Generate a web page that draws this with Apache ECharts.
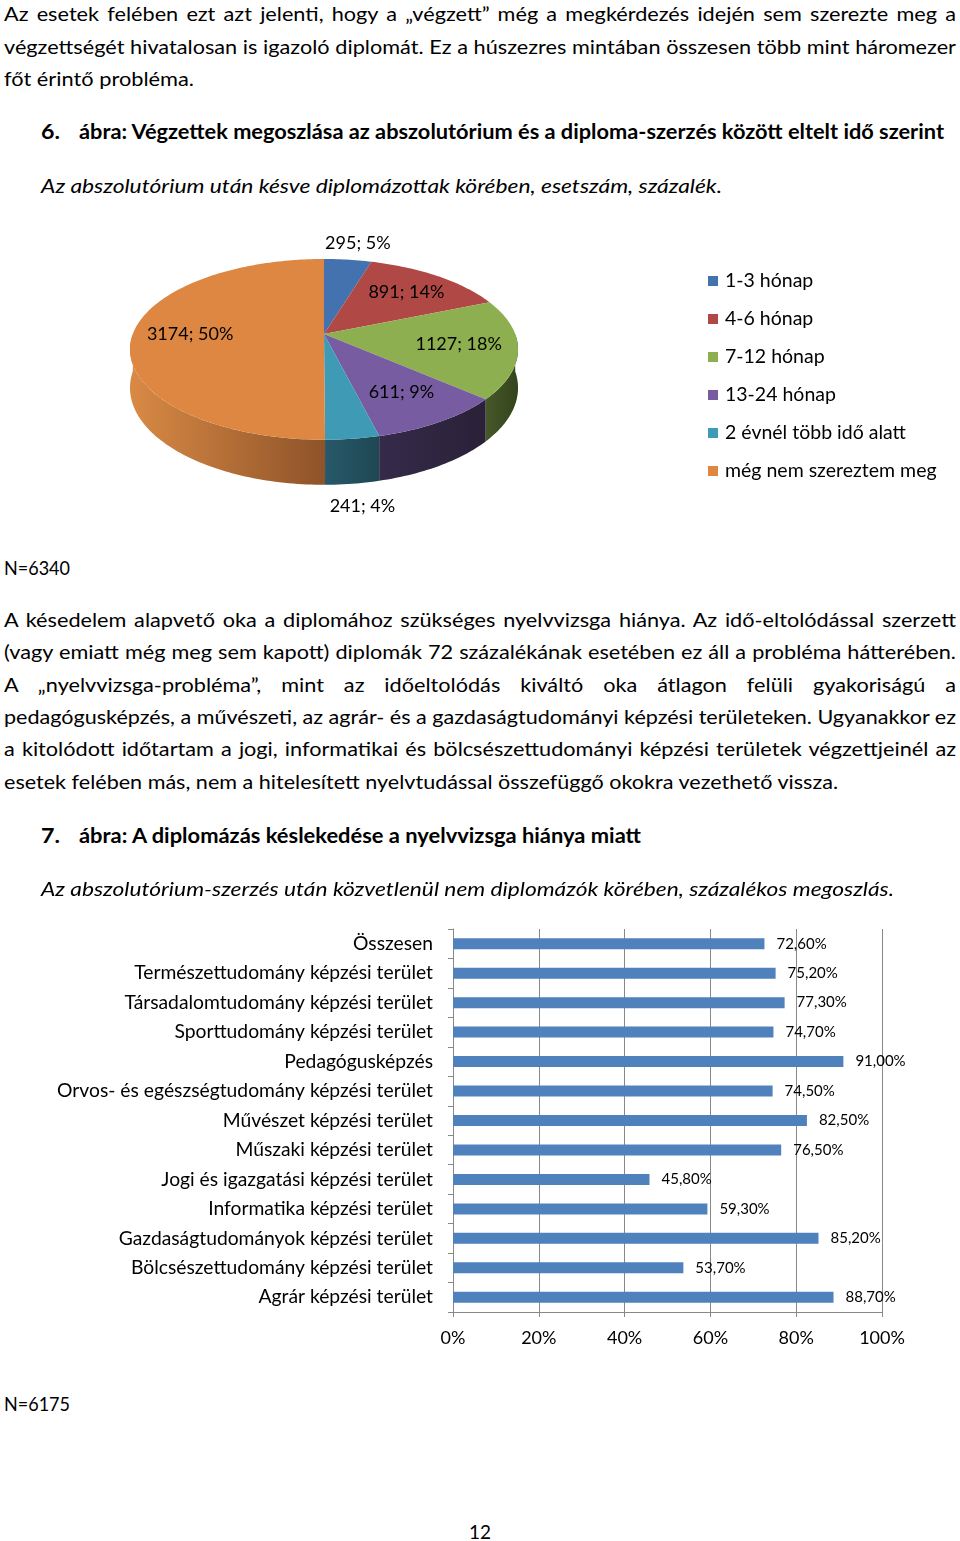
<!DOCTYPE html>
<html><head><meta charset="utf-8">
<script src="https://cdn.jsdelivr.net/npm/echarts@6/dist/echarts.min.js"></script>
<style>
html,body{margin:0;padding:0;background:#fff;}
#page{position:relative;width:960px;height:1541px;overflow:hidden;font-family:Lato,"Open Sans",sans-serif;color:#000;}
.ln{position:absolute;white-space:nowrap;font-size:20px;line-height:26px;height:26px;transform-origin:0 50%;}
.j{white-space:normal;text-align:justify;text-align-last:justify;}
.b{font-weight:bold;}
.i{font-style:italic;}
#pie{position:absolute;left:0;top:220px;width:960px;height:310px;}
#bar{position:absolute;left:0;top:900px;width:960px;height:470px;}
</style></head>
<body>
<div id="page">
  <div id="pie"></div>
  <div id="bar"></div>
</div>
<script>
// ---------- chart data ----------
const pieCategories = ['1-3 hónap', '4-6 hónap', '7-12 hónap', '13-24 hónap', '2 évnél több idő alatt', 'még nem szereztem meg'];
const pieValues = [295, 891, 1127, 611, 241, 3174];
const piePercents = ['5%', '14%', '18%', '9%', '4%', '50%'];
const pieColors = ['#4472AE', '#B04845', '#8DAF50', '#775CA1', '#3F9AB5', '#DD8742'];
const pieSideColors = [['#2E4E7A', '#22395A'], ['#7A302E', '#5A2221'], ['#46582A', '#33431C'], ['#352A4A', '#2A2138'], ['#27596A', '#1F4753'], ['#D98A45', '#8E5329']];

const barCategories = ['Összesen', 'Természettudomány képzési terület', 'Társadalomtudomány képzési terület', 'Sporttudomány képzési terület', 'Pedagógusképzés', 'Orvos- és egészségtudomány képzési terület', 'Művészet képzési terület', 'Műszaki képzési terület', 'Jogi és igazgatási képzési terület', 'Informatika képzési terület', 'Gazdaságtudományok képzési terület', 'Bölcsészettudomány képzési terület', 'Agrár képzési terület'];
const barValues = [72.6, 75.2, 77.3, 74.7, 91.0, 74.5, 82.5, 76.5, 45.8, 59.3, 85.2, 53.7, 88.7];
const xTickValues = [0, 20, 40, 60, 80, 100];

// ---------- page text ----------
const textLines = [
  {t:'Az esetek felében ezt azt jelenti, hogy a „végzett” még a megkérdezés idején sem szerezte meg a', x:4, y:13, w:952, j:true},
  {t:'végzettségét hivatalosan is igazoló diplomát. Ez a húszezres mintában összesen több mint háromezer', x:4, y:46, w:952, j:true},
  {t:'főt érintő probléma.', x:4, y:78, w:190, body:true},
  {t:'6.', x:41, y:131, w:19, c:'b'},
  {t:'ábra: Végzettek megoszlása az abszolutórium és a diploma-szerzés között eltelt idő szerint', x:79, y:131, w:865, c:'b'},
  {t:'Az abszolutórium után késve diplomázottak körében, esetszám, százalék.', x:41, y:185, w:681, c:'i'},
  {t:'N=6340', x:4, y:567, w:66},
  {t:'A késedelem alapvető oka a diplomához szükséges nyelvvizsga hiánya. Az idő-eltolódással szerzett', x:4, y:619, w:952, j:true},
  {t:'(vagy emiatt még meg sem kapott) diplomák 72 százalékának esetében ez áll a probléma hátterében.', x:4, y:651, w:952, j:true},
  {t:'A „nyelvvizsga-probléma”, mint az időeltolódás kiváltó oka átlagon felüli gyakoriságú a', x:4, y:684, w:952, j:true},
  {t:'pedagógusképzés, a művészeti, az agrár- és a gazdaságtudományi képzési területeken. Ugyanakkor ez', x:4, y:716, w:952, j:true},
  {t:'a kitolódott időtartam a jogi, informatikai és bölcsészettudományi képzési területek végzettjeinél az', x:4, y:748, w:952, j:true},
  {t:'esetek felében más, nem a hitelesített nyelvtudással összefüggő okokra vezethető vissza.', x:4, y:781, w:834, body:true},
  {t:'7.', x:41, y:835, w:19, c:'b'},
  {t:'ábra: A diplomázás késlekedése a nyelvvizsga hiánya miatt', x:79, y:835, w:562, c:'b'},
  {t:'Az abszolutórium-szerzés után közvetlenül nem diplomázók körében, százalékos megoszlás.', x:41, y:888, w:853, c:'i'},
  {t:'N=6175', x:4, y:1403, w:66},
  {t:'12', x:469, y:1531, w:22}
];

const page = document.getElementById('page');
const els = textLines.map(L => {
  const d = document.createElement('div');
  d.className = 'ln' + (L.c ? ' ' + L.c : '');
  d.textContent = L.t;
  d.style.left = L.x + 'px';
  d.style.top = (L.y - 13) + 'px';
  page.appendChild(d);
  return d;
});
function layoutText() {
  const nat = els.map(d => d.getBoundingClientRect().width);
  let sum = 0, n = 0;
  textLines.forEach((L, i) => { if (L.body) { sum += L.w / nat[i]; n++; } });
  const S = n ? sum / n : 1;
  textLines.forEach((L, i) => {
    const d = els[i];
    if (L.j) {
      const s = Math.min(S, L.w / nat[i]);
      d.classList.add('j');
      d.style.width = (L.w / s) + 'px';
      d.style.transform = 'scaleX(' + s + ')';
    } else {
      const s = L.w / nat[i];
      d.style.transform = 'scaleX(' + s + ')';
    }
  });
}
layoutText();

// ---------- pie (3D look with perspective) ----------
const FONT = 'Lato, "Open Sans", sans-serif';
const total = pieValues.reduce((a, b) => a + b, 0);
const cum = [0];
pieValues.forEach((v, i) => cum.push(cum[i] + v));
const G = {cx:324, cy:114, R:191.2, b:87.75, p:0.17, d:37.4};
function pt(th, k) {
  const s = Math.sin(th), c = Math.cos(th);
  const den = 1 + G.p * k * c;
  return [G.cx + G.R * k * s / den, G.cy - G.b * k * c / den];
}
function depth(th) { return G.d / (1 + G.p * Math.cos(th)); }
function arc(a0, a1, k, dfn) {
  const pts = [];
  const n = Math.max(2, Math.ceil((a1 - a0) / 0.02));
  for (let j = 0; j <= n; j++) {
    const t = a0 + (a1 - a0) * j / n;
    const q = pt(t, k);
    if (dfn) q[1] += dfn(t);
    pts.push(q);
  }
  return pts;
}
const pieChart = echarts.init(document.getElementById('pie'), null, {renderer:'canvas'});
pieChart.setOption({
  animation:false,
  color: pieColors,
  legend: {
    orient:'vertical', left:703, top:46, itemWidth:10, itemHeight:10, itemGap:18, icon:'rect',
    selectedMode:false,
    textStyle:{fontSize:19.5, fontFamily:FONT, color:'#000', padding:[0,0,0,2]},
    data: pieCategories
  },
  series: pieCategories.map((name, i) => ({
    type:'custom', name, coordinateSystem:'none', data:[pieValues[i]],
    itemStyle:{color: pieColors[i]},
    renderItem: function (params, api) {
      const a0 = cum[i] / total * Math.PI * 2;
      const a1 = cum[i + 1] / total * Math.PI * 2;
      const children = [];
      const t0 = Math.max(a0, Math.PI / 2), t1 = Math.min(a1, Math.PI * 1.5);
      if (t1 > t0) {
        const topPts = arc(t0, t1, 1);
        const botPts = arc(t0, t1, 1, depth).reverse();
        children.push({
          type:'polygon', shape:{points: topPts.concat(botPts)},
          style:{fill: new echarts.graphic.LinearGradient(0, 0, 1, 0, [
            {offset:0, color: pieSideColors[i][0]}, {offset:1, color: pieSideColors[i][1]}])}
        });
      }
      children.push({
        type:'polygon', shape:{points: [[G.cx, G.cy]].concat(arc(a0, a1, 1))},
        style:{fill: pieColors[i]}
      });
      const mid = (a0 + a1) / 2;
      const frac = pieValues[i] / total;
      let lp;
      if (frac < 0.06) {
        lp = pt(mid, 1);
        if (Math.cos(mid) < 0) lp[1] += depth(mid) + 22; else lp[1] -= 16;
        lp[0] += 10;
      } else {
        lp = pt(mid, 0.7);
      }
      children.push({
        type:'text', z2:100,
        style:{text: pieValues[i] + '; ' + piePercents[i], x: lp[0], y: lp[1], fill:'#000',
          font:'18px ' + FONT, align:'center', verticalAlign:'middle', textAlign:'center', textVerticalAlign:'middle'}
      });
      return {type:'group', children};
    }
  }))
});

// ---------- bar chart ----------
const barChart = echarts.init(document.getElementById('bar'), null, {renderer:'canvas'});
barChart.setOption({
  animation:false,
  grid:{left:453, right:78, top:29, height:383},
  xAxis:{
    type:'value', min:xTickValues[0], max:xTickValues[xTickValues.length - 1], interval:xTickValues[1] - xTickValues[0],
    axisLabel:{formatter:'{value}%', fontSize:18, fontFamily:FONT, color:'#000', margin:17},
    axisLine:{show:true, lineStyle:{color:'#888'}},
    axisTick:{show:true, length:5, lineStyle:{color:'#888'}},
    splitLine:{show:true, lineStyle:{color:'#888'}}
  },
  yAxis:{
    type:'category', inverse:true, data:barCategories,
    axisLine:{show:true, lineStyle:{color:'#888'}},
    axisTick:{show:true, length:5, lineStyle:{color:'#888'}},
    axisLabel:{fontSize:19.3, fontFamily:FONT, color:'#000', margin:20}
  },
  series:[{
    type:'bar', data:barValues, barWidth:11, itemStyle:{color:'#4F81BD'},
    label:{show:true, position:'right', distance:12, fontSize:15, fontFamily:FONT, color:'#000',
      formatter: p => p.value.toFixed(2).replace('.', ',') + '%'}
  }]
});
</script>
</body></html>
